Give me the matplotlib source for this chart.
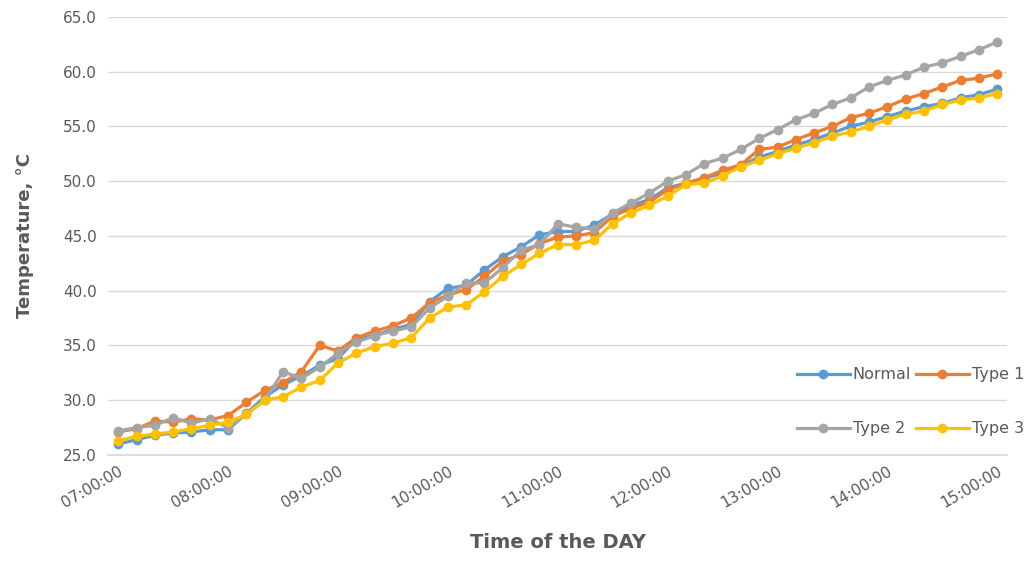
import numpy as np
import matplotlib
matplotlib.use("Agg")
import matplotlib.pyplot as plt

# readings every 10 minutes from 07:00 to 15:00
minutes = np.arange(0, 481, 10)
hour_ticks = np.arange(0, 481, 60)
hour_labels = ["07:00:00", "08:00:00", "09:00:00", "10:00:00", "11:00:00",
               "12:00:00", "13:00:00", "14:00:00", "15:00:00"]

normal = [26.0, 26.4, 26.8, 27.0, 27.1, 27.3, 27.3, 28.8, 30.3, 31.4,
          32.2, 33.2, 33.8, 35.6, 35.9, 36.5, 36.9, 39.0, 40.2, 40.5,
          41.9, 43.1, 44.0, 45.1, 45.4, 45.4, 46.0, 47.0, 47.8, 48.3,
          49.4, 49.8, 50.3, 50.7, 51.4, 52.2, 52.7, 53.3, 53.8, 54.4,
          55.0, 55.4, 55.9, 56.4, 56.8, 57.1, 57.6, 57.9, 58.4]
type1 = [27.1, 27.4, 28.1, 28.0, 28.3, 28.2, 28.6, 29.8, 30.9, 31.6,
         32.6, 35.0, 34.5, 35.7, 36.3, 36.8, 37.5, 38.9, 39.6, 40.1,
         41.3, 42.7, 43.3, 44.3, 44.9, 45.0, 45.3, 46.8, 47.5, 48.1,
         49.2, 49.8, 50.3, 51.0, 51.5, 52.9, 53.1, 53.8, 54.4, 55.0,
         55.8, 56.2, 56.8, 57.5, 58.0, 58.6, 59.2, 59.4, 59.8]
type2 = [27.2, 27.5, 27.7, 28.4, 27.9, 28.3, 27.5, 28.7, 30.0, 32.6,
         32.0, 33.0, 34.3, 35.3, 35.9, 36.3, 36.7, 38.4, 39.5, 40.7,
         40.7, 42.1, 43.7, 44.2, 46.1, 45.8, 45.6, 47.1, 48.0, 48.9,
         50.0, 50.6, 51.6, 52.1, 52.9, 53.9, 54.7, 55.6, 56.2, 57.0,
         57.6, 58.6, 59.2, 59.7, 60.4, 60.8, 61.4, 62.0, 62.7]
type3 = [26.3, 26.7, 26.9, 27.1, 27.4, 27.7, 28.0, 28.7, 30.0, 30.3,
         31.2, 31.8, 33.4, 34.3, 34.9, 35.2, 35.7, 37.5, 38.5, 38.7,
         39.9, 41.3, 42.4, 43.4, 44.2, 44.2, 44.6, 46.1, 47.1, 47.8,
         48.6, 49.7, 49.8, 50.5, 51.3, 51.9, 52.5, 53.0, 53.5, 54.1,
         54.5, 55.0, 55.6, 56.1, 56.4, 57.0, 57.4, 57.6, 58.0]

series = [("Normal", normal, "#5B9BD5"),
          ("Type 1", type1, "#ED7D31"),
          ("Type 2", type2, "#A5A5A5"),
          ("Type 3", type3, "#FFC000")]

txt = "#595959"
grid_col = "#D9D9D9"
fig = plt.figure(figsize=(10.3, 5.61), dpi=100)
ax = fig.add_axes([0.105, 0.189, 0.873, 0.781])

lines = {}
for name, vals, col in series:
    lines[name], = ax.plot(minutes, vals, "-o", color=col, lw=2.3, ms=6, label=name)

ax.set_xlim(-5.5, 485.5)
ax.set_ylim(25, 65)
yt = np.arange(25, 65.1, 5)
ax.set_yticks(yt)
ax.set_yticklabels(["%.1f" % v for v in yt])
ax.set_xticks(hour_ticks)
ax.set_xticklabels(hour_labels, rotation=30, ha="right", rotation_mode="anchor")
ax.tick_params(axis="both", length=0, colors=txt, labelsize=11)
ax.tick_params(axis="y", pad=8)
ax.tick_params(axis="x", pad=6)
ax.grid(axis="y", color=grid_col, lw=1)
ax.axhline(25, color=grid_col, lw=1.2, zorder=0, clip_on=False)
ax.set_axisbelow(True)
for s in ax.spines.values():
    s.set_visible(False)

ax.set_ylabel("Temperature, °C", fontsize=13, fontweight="bold", color=txt, labelpad=21)
ax.set_xlabel("Time of the DAY", fontsize=14, fontweight="bold", color=txt, labelpad=16)

# legend is filled column by column, so order gives rows Normal/Type 1, Type 2/Type 3
order = ["Normal", "Type 2", "Type 1", "Type 3"]
fig.legend([lines[k] for k in order], order, loc="center",
           bbox_to_anchor=(0.884, 0.284), ncol=2, frameon=False,
           fontsize=11.5, labelspacing=2.45, columnspacing=0.3, handlelength=3.3,
           handletextpad=0.2, labelcolor=txt, numpoints=1)

fig.savefig("out.png", dpi=100)
